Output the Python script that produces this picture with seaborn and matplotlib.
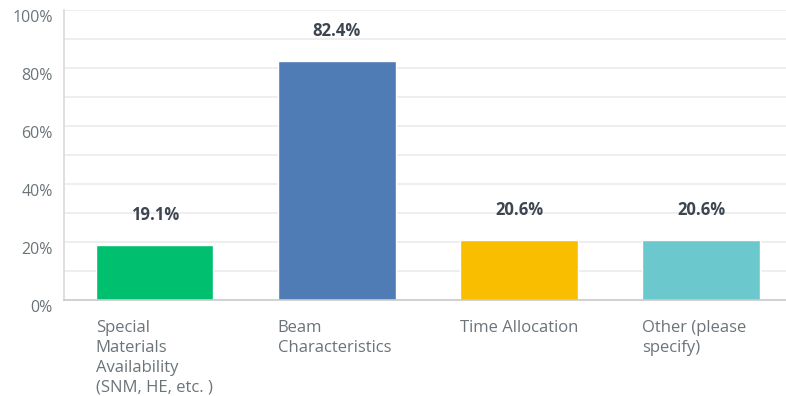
import numpy as np
import pandas as pd
import matplotlib.pyplot as plt
import matplotlib.transforms as mtransforms
import seaborn as sns

categories = ["Special\nMaterials\nAvailability\n(SNM, HE, etc. )",
              "Beam\nCharacteristics",
              "Time Allocation",
              "Other (please\nspecify)"]
values = [19.1, 82.4, 20.6, 20.6]
colors = ["#00BF6F", "#507CB6", "#F9BE00", "#6BC8CD"]
y_ticks = [0, 20, 40, 60, 80, 100]
grid_lines = [10, 20, 30, 40, 50, 60, 70, 80, 90, 100]

df = pd.DataFrame({"category": categories, "value": values})

sns.set_theme(style="white")
plt.rcParams['font.family'] = ['Open Sans', 'DejaVu Sans']

fig = plt.figure(figsize=(7.86, 3.96), dpi=100)
ax = fig.add_axes([0.0814, 0.2424, 0.9186, 0.7323])

for g in grid_lines:
    ax.axhline(g, color="#ebebeb", linewidth=1.2, zorder=0)

sns.barplot(data=df, x="category", y="value", hue="category",
            palette=colors, legend=False, width=0.643, saturation=1,
            ax=ax, zorder=2)

ax.set_xlim(-0.5, 3.467)
ax.set_ylim(0, 100)
ax.set_xlabel("")
ax.set_ylabel("")

# value labels above bars
for i, v in enumerate(values):
    ax.annotate(f"{v:.1f}%", (i, v), xytext=(0, 21.5), textcoords="offset points",
                ha="center", va="center", fontsize=12, fontweight="bold",
                color="#3d4650")

# category labels, left-aligned under each bar
ax.set_xticks(range(len(categories)))
ax.set_xticklabels([])
ax.tick_params(axis="x", length=0)
trans = mtransforms.blended_transform_factory(ax.transData, ax.transAxes)
for i, c in enumerate(categories):
    ax.text(i - 0.325, -0.07, c, transform=trans, ha="left", va="top",
            fontsize=12, color="#6b7479", linespacing=1.32)

ax.set_yticks(y_ticks)
ax.set_yticklabels([f"{t}%" for t in y_ticks], fontsize=11.5, color="#6b7479")
ax.tick_params(axis="y", length=0, pad=8)
for lbl in ax.get_yticklabels():
    lbl.set_transform(lbl.get_transform() +
                      mtransforms.ScaledTranslation(0, -4 / 72, fig.dpi_scale_trans))

for s in ["top", "right"]:
    ax.spines[s].set_visible(False)
ax.spines["left"].set_color("#d9d9d9")
ax.spines["left"].set_linewidth(1.2)
ax.spines["bottom"].set_color("#c8c8c8")
ax.spines["bottom"].set_linewidth(1.2)

fig.savefig("out.png", dpi=100)
